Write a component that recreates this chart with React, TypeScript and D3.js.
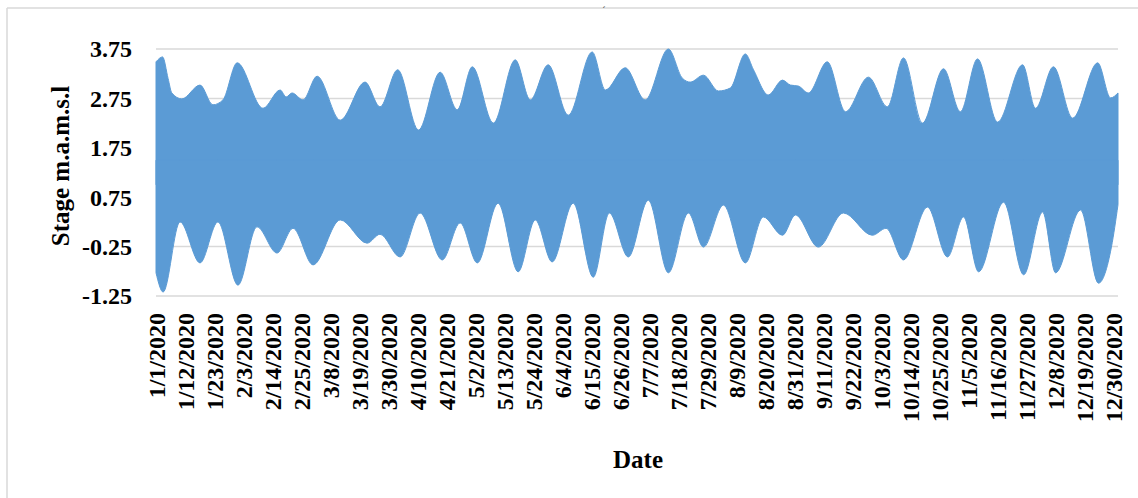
import React from "react";
import * as d3 from "d3";

// Hourly stage record plotted as its high-water / low-water envelope (days since 1 Jan)
const highDays = [0, 2.5, 4.6, 6, 9.8, 16.7, 21.6, 25.4, 30.8, 40.6, 47.1, 49.4, 51.6, 55.8, 61.1, 69.9, 79.3, 85, 91.7, 99.6, 107.8, 114.3, 120, 128, 136.3, 142, 148.8, 156.4, 165.5, 170.5, 178, 185.6, 194.4, 199.7, 202.7, 207.7, 213.4, 217.9, 223.6, 226.7, 232.3, 237.7, 240.7, 243.7, 247.5, 254.7, 261.6, 270.3, 277.5, 283.6, 290.8, 298.8, 305.2, 311.7, 319.3, 328.8, 333.7, 340.5, 347.8, 357.3, 362.2, 365];
const highStage = [3.49, 3.59, 3.15, 2.86, 2.74, 3.02, 2.62, 2.72, 3.47, 2.55, 2.92, 2.78, 2.86, 2.72, 3.2, 2.31, 3.08, 2.58, 3.33, 2.11, 3.28, 2.52, 3.39, 2.25, 3.53, 2.72, 3.43, 2.41, 3.69, 2.92, 3.37, 2.72, 3.75, 3.16, 3.08, 3.22, 2.9, 2.96, 3.65, 3.33, 2.82, 3.12, 3.02, 3.0, 2.86, 3.49, 2.48, 3.18, 2.58, 3.57, 2.25, 3.35, 2.48, 3.55, 2.27, 3.43, 2.55, 3.39, 2.35, 3.47, 2.76, 2.86];

const lowDays = [0, 2.7, 9.1, 16.7, 23.5, 31.1, 38.3, 45.9, 52, 59.6, 69.9, 80.1, 85, 92.6, 100.2, 108.6, 115.4, 121.9, 129.8, 137.4, 143.9, 150.3, 158.3, 165.9, 172, 179.2, 186.8, 194.4, 202, 207.7, 215.3, 223.6, 230.4, 237.7, 242.6, 251.3, 260.8, 271.8, 277, 283.6, 292.7, 300.3, 306.4, 312.1, 321.6, 329.2, 336.4, 341.3, 350.8, 357.6, 362.5, 365];
const lowStage = [-0.78, -1.17, 0.25, -0.58, 0.25, -1.03, 0.15, -0.38, 0.12, -0.62, 0.29, -0.18, 0.0, -0.46, 0.43, -0.52, 0.23, -0.58, 0.63, -0.76, 0.29, -0.56, 0.63, -0.87, 0.43, -0.46, 0.69, -0.78, 0.43, -0.26, 0.59, -0.58, 0.35, -0.02, 0.39, -0.26, 0.43, -0.02, 0.12, -0.52, 0.55, -0.46, 0.35, -0.76, 0.65, -0.82, 0.45, -0.78, 0.49, -0.99, -0.26, 0.6];

const yTicks = [3.75, 2.75, 1.75, 0.75, -0.25, -1.25];
const dateLabels = [
  "1/1/2020", "1/12/2020", "1/23/2020", "2/3/2020", "2/14/2020", "2/25/2020",
  "3/8/2020", "3/19/2020", "3/30/2020", "4/10/2020", "4/21/2020", "5/2/2020",
  "5/13/2020", "5/24/2020", "6/4/2020", "6/15/2020", "6/26/2020", "7/7/2020",
  "7/18/2020", "7/29/2020", "8/9/2020", "8/20/2020", "8/31/2020", "9/11/2020",
  "9/22/2020", "10/3/2020", "10/14/2020", "10/25/2020", "11/5/2020", "11/16/2020",
  "11/27/2020", "12/8/2020", "12/19/2020", "12/30/2020",
];
const labelStepDays = 11;
const totalDays = 365;

const W = 1138;
const H = 498;
const plot = { left: 156, right: 1118, top: 49, bottom: 296 };
const FONT = "'Liberation Serif', 'Times New Roman', serif";
const BLUE = "#5B9BD5";
const GRID = "#D9D9D9";

export default function App() {
  const x = d3.scaleLinear().domain([0, totalDays]).range([plot.left, plot.right]);
  const y = d3.scaleLinear().domain([-1.25, 3.75]).range([plot.bottom, plot.top]);

  const highPts = highDays.map((d, i) => [d, highStage[i]] as [number, number]);
  const lowPts = lowDays.map((d, i) => [d, lowStage[i]] as [number, number]);

  // upper half: from a mid level up to the high-water envelope
  const upperArea = d3
    .area<[number, number]>()
    .x((p) => x(p[0]))
    .y0(y(1.0))
    .y1((p) => y(p[1]))
    .curve(d3.curveMonotoneX);
  // lower half: from the low-water envelope up to a mid level (overlaps the upper half)
  const lowerArea = d3
    .area<[number, number]>()
    .x((p) => x(p[0]))
    .y0((p) => y(p[1]))
    .y1(y(1.5))
    .curve(d3.curveMonotoneX);

  return (
    <svg
      width={W}
      height={H}
      style={{ position: "absolute", left: 0, top: 0, background: "#fff" }}
      fontFamily={FONT}
    >
      <rect x={0} y={0} width={W} height={H} fill="#fff" />
      {/* chart frame */}
      <line x1={7} x2={W} y1={8} y2={8} stroke={GRID} strokeWidth={1.5} />
      <line x1={7} x2={7} y1={8} y2={H} stroke={GRID} strokeWidth={1.5} />
      <text x={604} y={14} fontSize={10} fill="#333" textAnchor="middle">
        ´
      </text>

      {/* gridlines */}
      {yTicks.map((t) => (
        <line key={t} x1={plot.left} x2={plot.right} y1={y(t)} y2={y(t)} stroke={GRID} strokeWidth={1.5} />
      ))}

      {/* stage series */}
      <path d={upperArea(highPts) || ""} fill={BLUE} stroke={BLUE} strokeWidth={1} />
      <path d={lowerArea(lowPts) || ""} fill={BLUE} stroke={BLUE} strokeWidth={1} />

      {/* y tick labels */}
      {yTicks.map((t) => (
        <text
          key={t}
          x={132}
          y={y(t)}
          dy="0.35em"
          textAnchor="end"
          fontWeight="bold"
          fontSize={24}
          fill="#000"
        >
          {t.toFixed(2)}
        </text>
      ))}

      {/* x tick labels */}
      {dateLabels.map((lab, i) => {
        const px = x(i * labelStepDays);
        return (
          <text
            key={lab}
            transform={`translate(${px + 1},313) rotate(-90)`}
            dy="0.35em"
            textAnchor="end"
            fontWeight="bold"
            fontSize={24}
            fill="#000"
          >
            {lab}
          </text>
        );
      })}

      {/* axis titles */}
      <text
        transform={`translate(60,166) rotate(-90)`}
        dy="0.35em"
        textAnchor="middle"
        fontWeight="bold"
        fontSize={25}
        fill="#000"
      >
        Stage m.a.m.s.l
      </text>
      <text x={638} y={468} textAnchor="middle" fontWeight="bold" fontSize={25} fill="#000">
        Date
      </text>
    </svg>
  );
}
